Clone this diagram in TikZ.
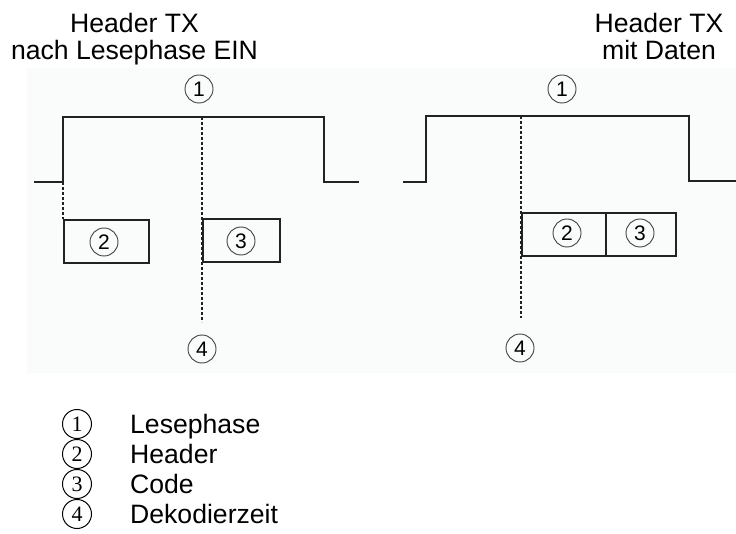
\documentclass[tikz,border=0pt]{standalone}
\usepackage{fontspec}
\setmainfont{Liberation Sans}
\newfontfamily\serifnum{Liberation Serif}
\definecolor{bgc}{HTML}{FAFBFB}
\definecolor{ink}{HTML}{222222}
\begin{document}
\begin{tikzpicture}[x=1pt,y=-1pt,
  sig/.style={line width=1.7pt, draw=ink, line join=miter},
  vdash/.style={line width=1.4pt, draw=ink, dash pattern=on 3pt off 2pt},
  fieldbox/.style={draw=ink, line width=1.7pt, anchor=north west, inner sep=0pt},
  num/.style={circle, draw=black!75, line width=0.9pt, inner sep=0pt, minimum size=28pt, font=\fontsize{21}{21}\selectfont},
  lnum/.style={circle, draw=black, line width=1pt, inner sep=0pt, minimum size=29pt, font=\serifnum\fontsize{22}{22}\selectfont},
  title/.style={align=center, anchor=north, inner sep=0pt, font=\fontsize{26.6}{27}\selectfont},
  legtext/.style={anchor=base west, inner sep=0pt, font=\fontsize{26.6}{27}\selectfont},
]
\useasboundingbox (0,0) rectangle (736,534);
\fill[bgc] (27,68) rectangle (736,373);

% titles
\node[title] (tL) at (134.5,13) {Header TX\\nach Lesephase EIN};
\node[title] (tR) at (659,13) {Header TX\\mit Daten};

% left diagram
\draw[sig] (34,182) -- (63,182) -- (63,117) -- (324,117) -- (324,182) -- (359,182);
\node[fieldbox, minimum width=85pt, minimum height=43pt] (hdrL) at (63,219) {};
\node[fieldbox, minimum width=77pt, minimum height=43pt] (codeL) at (202,218) {};
\coordinate (dL0) at (63,182);
\draw[vdash] (dL0) -- (hdrL.north west);
\coordinate (mTop) at (202,117);
\coordinate (mBot) at (202,322);
\draw[vdash] (mTop) -- (mBot);
\node[num] (n1L) at (199,89) {1};
\node[num] (n2L) at (104,242) {2};
\node[num] (n3L) at (241,241) {3};
\node[num] (n4L) at (202,349) {4};

% right diagram
\draw[sig] (403,182) -- (426,182) -- (426,116) -- (689,116) -- (689,181) -- (736,181);
\node[fieldbox, minimum width=84pt, minimum height=43pt] (hdrR) at (521,212) {};
\node[fieldbox, minimum width=70pt, minimum height=43pt] (codeR) at (605,212) {};
\coordinate (rTop) at (521,116);
\coordinate (rBot) at (521,318);
\draw[vdash] (rTop) -- (rBot);
\node[num] (n1R) at (562,89) {1};
\node[num] (n2R) at (567,233) {2};
\node[num] (n3R) at (640,233) {3};
\node[num] (n4R) at (520,348) {4};

% legend
\node[lnum] (l1) at (77,424) {1};
\node[lnum] (l2) at (77,454) {2};
\node[lnum] (l3) at (77,484) {3};
\node[lnum] (l4) at (77,514) {4};
\node[legtext] (t1) at (130,433) {Lesephase};
\node[legtext] (t2) at (130,463) {Header};
\node[legtext] (t3) at (130,493) {Code};
\node[legtext] (t4) at (130,523) {Dekodierzeit};
\end{tikzpicture}
\end{document}
